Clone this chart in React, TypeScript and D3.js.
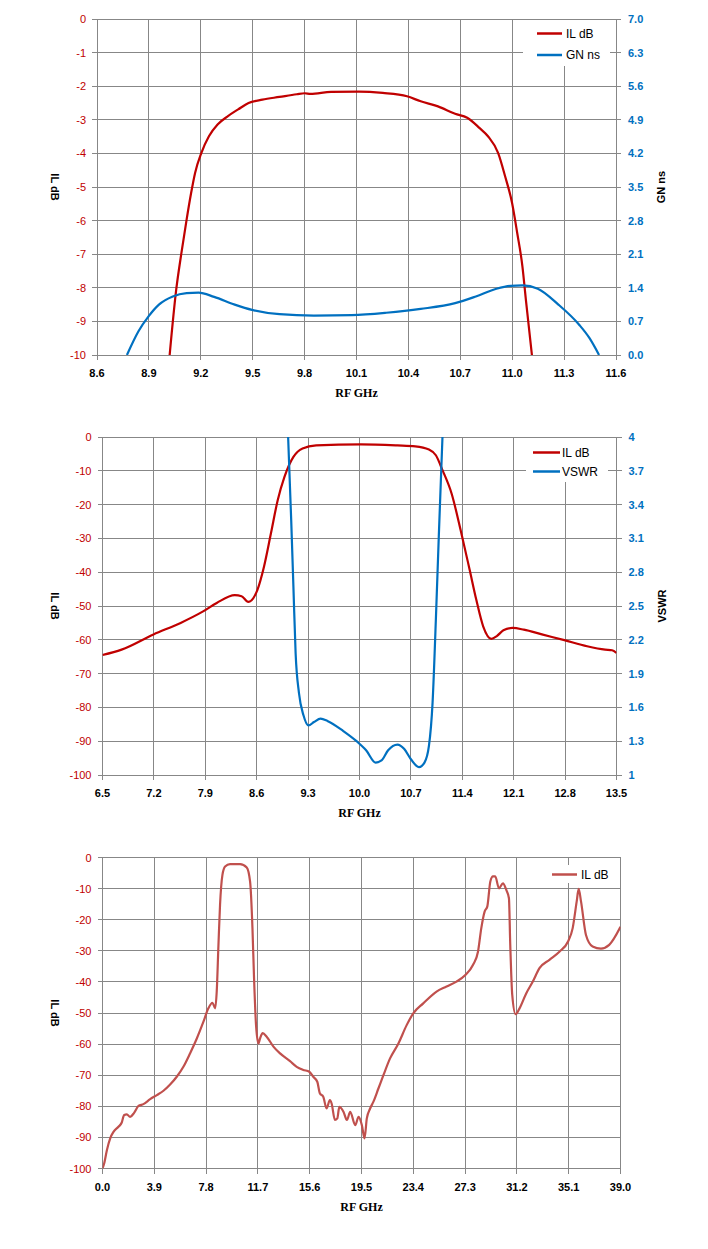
import React, { useEffect, useRef } from 'react';
import * as d3 from 'd3';

const RED = '#C00000';
const BLUE = '#0070C0';
const RED3 = '#C0504D';
const GRID = '#878787';

// ---- chart 1: passband IL + group delay
const xTicks1 = ['8.6', '8.9', '9.2', '9.5', '9.8', '10.1', '10.4', '10.7', '11.0', '11.3', '11.6'];
const ilTicks1 = ['0', '-1', '-2', '-3', '-4', '-5', '-6', '-7', '-8', '-9', '-10'];
const gnTicks1 = ['0.0', '0.7', '1.4', '2.1', '2.8', '3.5', '4.2', '4.9', '5.6', '6.3', '7.0'];
const il1: [number, number][] = [
  [9.02, -10], [9.058, -8.05], [9.088, -6.96], [9.118, -5.97], [9.144, -5.18], [9.167, -4.58],
  [9.203, -3.99], [9.247, -3.49], [9.297, -3.14], [9.357, -2.89], [9.416, -2.69], [9.476, -2.5],
  [9.556, -2.4], [9.655, -2.32], [9.755, -2.24], [9.8, -2.21], [9.834, -2.23], [9.953, -2.17],
  [10.113, -2.16], [10.252, -2.2], [10.392, -2.3], [10.471, -2.45], [10.571, -2.6], [10.67, -2.82],
  [10.74, -2.94], [10.81, -3.24], [10.86, -3.49], [10.919, -3.99], [10.959, -4.68], [10.999, -5.47],
  [11.029, -6.37], [11.059, -7.36], [11.079, -8.35], [11.114, -10],
];
const gn1: [number, number][] = [
  [8.773, 0], [8.839, 0.49], [8.899, 0.81], [8.958, 1.05], [9.038, 1.22], [9.118, 1.29],
  [9.187, 1.3], [9.277, 1.21], [9.396, 1.05], [9.496, 0.94], [9.655, 0.85], [9.854, 0.82],
  [10.073, 0.83], [10.272, 0.88], [10.471, 0.96], [10.67, 1.08], [10.79, 1.22], [10.909, 1.38],
  [10.989, 1.44], [11.059, 1.45], [11.148, 1.38], [11.267, 1.05], [11.387, 0.63], [11.447, 0.35],
  [11.502, 0],
];

// ---- chart 2: wideband IL + VSWR
const xTicks2 = ['6.5', '7.2', '7.9', '8.6', '9.3', '10.0', '10.7', '11.4', '12.1', '12.8', '13.5'];
const ilTicks2 = ['0', '-10', '-20', '-30', '-40', '-50', '-60', '-70', '-80', '-90', '-100'];
const vswrTicks2 = ['1', '1.3', '1.6', '1.9', '2.2', '2.5', '2.8', '3.1', '3.4', '3.7', '4'];
const il2: [number, number][] = [
  [6.5, -64.5], [6.76, -62.9], [7.195, -58.4], [7.564, -55.0], [7.87, -51.6], [8.056, -49.1],
  [8.302, -46.8], [8.394, -47.1], [8.486, -48.8], [8.61, -45.2], [8.7, -38.3], [8.794, -28.5],
  [8.886, -18.7], [8.978, -11.8], [9.1, -5.9], [9.224, -3.4], [9.41, -2.5], [10.02, -2.2],
  [10.516, -2.5], [10.76, -2.75], [10.946, -3.7], [11.04, -5.4], [11.13, -9.8], [11.254, -16.7],
  [11.377, -27.5], [11.5, -39.3], [11.59, -48.1], [11.684, -56], [11.795, -59.7], [11.87, -58.9],
  [11.96, -57.2], [12.084, -56.5], [12.238, -57.0], [12.484, -58.4], [12.79, -60.1], [13.1, -61.9],
  [13.345, -62.9], [13.44, -63.1], [13.5, -63.9],
];
const vswr2: [number, number][] = [
  [9.028, 4.0], [9.07, 3.26], [9.1, 2.67], [9.13, 2.08], [9.175, 1.73], [9.237, 1.53],
  [9.305, 1.44], [9.38, 1.47], [9.47, 1.5], [9.563, 1.48], [9.78, 1.39], [9.96, 1.3],
  [10.09, 1.22], [10.22, 1.11], [10.3, 1.13], [10.39, 1.22], [10.516, 1.27], [10.61, 1.23],
  [10.7, 1.14], [10.81, 1.07], [10.885, 1.11], [10.946, 1.26], [10.995, 1.64], [11.04, 2.38],
  [11.08, 3.12], [11.13, 4.0],
];

// ---- chart 3: spurious response to 39 GHz
const xTicks3 = ['0.0', '3.9', '7.8', '11.7', '15.6', '19.5', '23.4', '27.3', '31.2', '35.1', '39.0'];
const ilTicks3 = ['0', '-10', '-20', '-30', '-40', '-50', '-60', '-70', '-80', '-90', '-100'];
const il3: [number, number][] = [
  [0, -100], [0.125, -98.4], [0.33, -94.1], [0.58, -90.3], [0.83, -88.2], [1.2, -86.6],
  [1.45, -85.2], [1.63, -82.8], [1.83, -82.6], [2.08, -83.4], [2.38, -82.1], [2.71, -79.9],
  [3.08, -79.3], [3.59, -77.7], [4.09, -76.4], [4.59, -75.0], [5.09, -73.0], [5.59, -70.5],
  [6.09, -67.3], [6.59, -63.0], [7.1, -58.2], [7.6, -52.8], [7.97, -48.5], [8.28, -46.7],
  [8.48, -48.5], [8.6, -43.1], [8.73, -28.1], [8.85, -15.2], [9.03, -5.6], [9.23, -2.9],
  [9.6, -2.1], [10.36, -2.1], [10.86, -3.2], [11.11, -7.7], [11.29, -22.7], [11.41, -38.8],
  [11.56, -53.9], [11.74, -59.8], [11.86, -58.2], [12.06, -56.5], [12.36, -57.6], [12.87, -60.8],
  [13.37, -63.0], [14.12, -65.5], [14.62, -67.3], [15.12, -68.3], [15.57, -68.9], [15.87, -70.5],
  [16.17, -72.1], [16.37, -75.9], [16.62, -76.9], [16.87, -80.7], [17.12, -78.0], [17.25, -79.1],
  [17.5, -84.4], [17.68, -83.9], [17.83, -80.2], [18.15, -81.8], [18.4, -84.4], [18.65, -81.8],
  [19.03, -86.1], [19.28, -83.4], [19.53, -86.1], [19.73, -90.3], [19.9, -83.9], [20.15, -80.7],
  [20.4, -78.5], [20.78, -74.2], [21.15, -70.0], [21.65, -64.6], [22.28, -59.8], [22.9, -53.9],
  [23.4, -50.1], [24.15, -46.9], [25.15, -43.1], [25.9, -41.5], [26.65, -39.9], [27.32, -37.8],
  [27.9, -34.5], [28.27, -30.3], [28.52, -22.7], [28.77, -17.4], [28.97, -15.8], [29.2, -7.7],
  [29.4, -6.1], [29.57, -6.1], [29.85, -9.9], [30.15, -8.3], [30.4, -10.4], [30.6, -13.1],
  [30.7, -28.1], [30.85, -44.2], [31.1, -50.4], [31.4, -48.5], [31.9, -43.7], [32.4, -39.9],
  [32.9, -35.6], [33.65, -32.9], [34.4, -30.3], [35.05, -27.0], [35.4, -22.7], [35.7, -14.2],
  [35.85, -10.1], [36.03, -14.2], [36.4, -24.9], [36.9, -28.6], [37.53, -29.3], [38.15, -28.1],
  [39.0, -22.3],
];

interface Series {
  name: string;
  data: [number, number][];
  color: string;
  axis: 'left' | 'right';
}

interface ChartSpec {
  id: string;
  left: number; right: number; top: number; bottom: number;
  xTicks: string[];
  leftTicks: string[];
  rightTicks?: string[];
  leftTitle: string;
  rightTitle?: string;
  series: Series[];
  legend: { box: [number, number, number, number]; lineX: [number, number]; textX: number; rows: number[] };
}

const charts: ChartSpec[] = [
  {
    id: 'c1', left: 97, right: 616, top: 19, bottom: 355,
    xTicks: xTicks1, leftTicks: ilTicks1, rightTicks: gnTicks1,
    leftTitle: 'IL dB', rightTitle: 'GN ns',
    series: [
      { name: 'IL dB', data: il1, color: RED, axis: 'left' },
      { name: 'GN ns', data: gn1, color: BLUE, axis: 'right' },
    ],
    legend: { box: [523, 20, 87, 46], lineX: [537, 562], textX: 566, rows: [33.5, 55] },
  },
  {
    id: 'c2', left: 102.5, right: 616.5, top: 437, bottom: 775,
    xTicks: xTicks2, leftTicks: ilTicks2, rightTicks: vswrTicks2,
    leftTitle: 'IL dB', rightTitle: 'VSWR',
    series: [
      { name: 'IL dB', data: il2, color: RED, axis: 'left' },
      { name: 'VSWR', data: vswr2, color: BLUE, axis: 'right' },
    ],
    legend: { box: [526, 438, 82, 44], lineX: [533, 560], textX: 562, rows: [452.5, 471.5] },
  },
  {
    id: 'c3', left: 102.5, right: 620.5, top: 857.5, bottom: 1168.5,
    xTicks: xTicks3, leftTicks: ilTicks3,
    leftTitle: 'IL dB',
    series: [{ name: 'IL dB', data: il3, color: RED3, axis: 'left' }],
    legend: { box: [548, 865, 64, 18], lineX: [552, 577], textX: 581, rows: [874.5] },
  },
];

const SANS = '"Liberation Sans", Arial, sans-serif';

function drawChart(svg: d3.Selection<SVGSVGElement, unknown, null, undefined>, c: ChartSpec) {
  const xv = c.xTicks.map(Number);
  const lv = c.leftTicks.map(Number);
  const x = d3.scaleLinear().domain([xv[0], xv[xv.length - 1]]).range([c.left, c.right]);
  const yL = d3.scaleLinear().domain([d3.min(lv)!, d3.max(lv)!]).range([c.bottom, c.top]);
  const rv = c.rightTicks ? c.rightTicks.map(Number) : null;
  const yR = rv ? d3.scaleLinear().domain([d3.min(rv)!, d3.max(rv)!]).range([c.bottom, c.top]) : null;

  const g = svg.append('g');
  const grid = g.append('g').attr('stroke', GRID).attr('stroke-width', 1).attr('shape-rendering', 'crispEdges');

  // vertical gridlines + x tick marks
  xv.forEach((v) => {
    grid.append('line').attr('x1', x(v)).attr('x2', x(v)).attr('y1', c.top).attr('y2', c.bottom + 5);
  });
  // horizontal gridlines + y tick marks
  lv.forEach((v) => {
    grid.append('line')
      .attr('x1', c.left - 5).attr('x2', c.right + (yR ? 5 : 0))
      .attr('y1', yL(v)).attr('y2', yL(v));
  });

  // tick labels
  g.append('g').selectAll('text').data(c.xTicks).enter().append('text')
    .attr('x', (d) => x(+d)).attr('y', c.bottom + 18)
    .attr('text-anchor', 'middle').attr('dominant-baseline', 'central')
    .attr('font-family', SANS).attr('font-size', 11).attr('font-weight', 'bold').attr('fill', '#000')
    .text((d) => d);

  g.append('g').selectAll('text').data(c.leftTicks).enter().append('text')
    .attr('x', c.left - 11).attr('y', (d) => yL(+d))
    .attr('text-anchor', 'end').attr('dominant-baseline', 'central')
    .attr('font-family', SANS).attr('font-size', 11).attr('fill', RED)
    .text((d) => d);

  if (c.rightTicks && yR) {
    g.append('g').selectAll('text').data(c.rightTicks).enter().append('text')
      .attr('x', c.right + 12).attr('y', (d) => yR(+d))
      .attr('text-anchor', 'start').attr('dominant-baseline', 'central')
      .attr('font-family', SANS).attr('font-size', 11).attr('font-weight', 'bold').attr('fill', BLUE)
      .text((d) => d);
  }

  // axis titles
  const midY = (c.top + c.bottom) / 2;
  g.append('text')
    .attr('transform', `translate(55,${midY}) rotate(90)`)
    .attr('text-anchor', 'middle').attr('dominant-baseline', 'central')
    .attr('font-family', SANS).attr('font-size', 11).attr('font-weight', 'bold')
    .text(c.leftTitle);
  if (c.rightTitle) {
    g.append('text')
      .attr('transform', `translate(${c.right + 45},${midY}) rotate(-90)`)
      .attr('text-anchor', 'middle').attr('dominant-baseline', 'central')
      .attr('font-family', SANS).attr('font-size', 11).attr('font-weight', 'bold')
      .text(c.rightTitle);
  }
  g.append('text')
    .attr('x', (c.left + c.right) / 2).attr('y', c.bottom + 38)
    .attr('text-anchor', 'middle').attr('dominant-baseline', 'central')
    .attr('font-family', '"Liberation Serif", "Times New Roman", serif')
    .attr('font-size', 12).attr('font-weight', 'bold')
    .text('RF GHz');

  // data lines, clipped to the plot area
  g.append('clipPath').attr('id', `clip-${c.id}`).append('rect')
    .attr('x', c.left).attr('y', c.top).attr('width', c.right - c.left).attr('height', c.bottom - c.top);
  const plot = g.append('g').attr('clip-path', `url(#clip-${c.id})`);
  c.series.forEach((s) => {
    const yS = s.axis === 'right' && yR ? yR : yL;
    const line = d3.line<[number, number]>()
      .x((d) => x(d[0])).y((d) => yS(d[1]))
      .curve(d3.curveMonotoneX);
    plot.append('path').attr('d', line(s.data) ?? '')
      .attr('fill', 'none').attr('stroke', s.color).attr('stroke-width', 2.2)
      .attr('stroke-linejoin', 'round');
  });

  // legend
  const [bx, by, bw, bh] = c.legend.box;
  const lg = g.append('g');
  lg.append('rect').attr('x', bx).attr('y', by).attr('width', bw).attr('height', bh).attr('fill', '#fff');
  c.series.forEach((s, i) => {
    const ry = c.legend.rows[i];
    lg.append('line').attr('x1', c.legend.lineX[0]).attr('x2', c.legend.lineX[1])
      .attr('y1', ry).attr('y2', ry).attr('stroke', s.color).attr('stroke-width', 2.5);
    lg.append('text').attr('x', c.legend.textX).attr('y', ry)
      .attr('dominant-baseline', 'central')
      .attr('font-family', SANS).attr('font-size', 12).attr('fill', '#000')
      .text(s.name);
  });
}

const App: React.FC = () => {
  const svgRef = useRef<SVGSVGElement | null>(null);

  useEffect(() => {
    const el = svgRef.current;
    if (!el) return;
    const svg = d3.select(el);
    svg.selectAll('*').remove();
    charts.forEach((c) => drawChart(svg, c));
  }, []);

  return (
    <svg
      ref={svgRef}
      width={708}
      height={1249}
      style={{ position: 'absolute', left: 0, top: 0, background: '#fff' }}
    />
  );
};

export default App;
